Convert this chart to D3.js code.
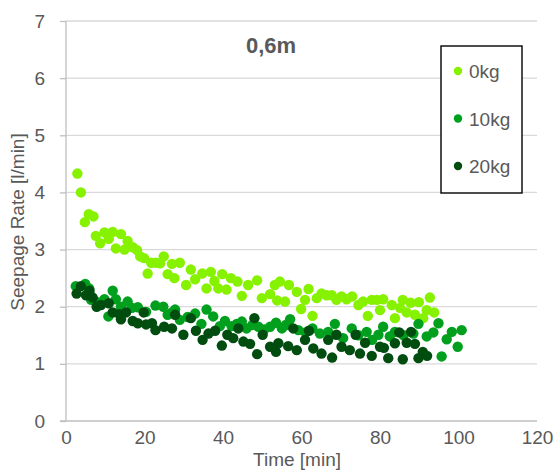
<!DOCTYPE html>
<html lang="en">
<head>
<meta charset="UTF-8">
<title>Seepage Rate 0,6m</title>
<script src="https://cdn.jsdelivr.net/npm/d3@7"></script>
<style>
    body { margin: 0; background: #fff; }
    svg text { font-family: "Liberation Sans", "DejaVu Sans", sans-serif; fill: #595959; }
    .grid line { stroke: #d9d9d9; stroke-width: 1.3; }
    .axis path, .axis line { stroke: #bfbfbf; stroke-width: 1.3; }
</style>
</head>
<body>
<svg id="chart" width="554" height="473"></svg>
<script>
// series data (time in min, rate in l/min)
var time0 = [2.9,3.8,4.8,5.8,7.0,7.6,8.7,9.8,10.9,11.9,12.7,14.0,14.9,15.7,17.0,18.1,18.9,19.9,20.8,21.7,22.9,24.0,24.9,25.9,27.0,27.6,
    29.0,30.6,31.8,32.9,34.7,35.8,36.9,37.8,38.8,39.8,40.9,42.0,43.7,44.8,46.4,48.7,49.9,52.0,53.2,53.8,
    54.5,55.8,56.8,58.8,59.9,60.9,61.8,62.8,63.9,65.1,66.4,67.7,68.9,70.2,71.5,72.9,74.5,75.7,76.9,77.9,79.2,80.0,
    80.8,83.0,83.8,85.1,85.8,86.8,87.8,88.9,89.9,91.0,91.9,92.7,93.8];
var rate0 = [4.33,4.00,3.48,3.62,3.58,3.24,3.11,3.30,3.19,3.31,3.02,3.27,3.00,3.15,3.04,2.99,2.88,2.85,2.58,2.77,2.77,2.76,2.88,2.57,2.75,2.50,
    2.77,2.38,2.65,2.48,2.58,2.32,2.61,2.45,2.32,2.57,2.30,2.50,2.44,2.19,2.38,2.46,2.15,2.22,2.38,2.11,
    2.44,2.09,2.38,2.26,1.96,2.12,2.31,1.84,2.15,2.23,2.20,2.20,2.12,2.18,2.13,2.18,2.03,2.09,1.84,2.12,2.12,1.94,
    2.13,2.03,1.80,1.98,2.12,1.90,2.07,1.86,2.08,1.80,1.94,2.16,1.90];

var time10 = [2.5,4.9,5.9,6.4,8.0,9.8,10.8,11.9,12.7,14.0,15.7,16.8,18.3,20.4,22.8,24.8,25.9,27.0,
    27.8,29.0,31.0,32.9,34.5,35.8,37.5,39.2,40.5,42.2,43.5,44.8,46.0,47.5,49.0,50.5,52.0,53.5,
    55.0,56.0,57.1,59.2,61.0,62.8,64.7,66.8,68.5,70.6,72.8,74.5,76.6,78.0,79.6,
    80.8,82.5,83.8,86.0,88.5,89.8,91.9,93.6,94.9,95.7,97.0,98.3,99.8,100.8];
var rate10 = [2.36,2.40,2.32,2.12,2.08,2.13,1.83,2.28,2.13,2.00,2.09,1.98,1.99,1.91,2.02,2.00,1.86,1.90,
    1.95,1.77,1.82,1.88,1.70,1.95,1.83,1.66,1.75,1.66,1.70,1.74,1.62,1.68,1.65,1.60,1.65,1.72,
    1.62,1.68,1.78,1.59,1.55,1.62,1.53,1.56,1.70,1.45,1.62,1.50,1.56,1.42,1.51,
    1.65,1.48,1.56,1.50,1.53,1.70,1.48,1.55,1.71,1.13,1.43,1.56,1.30,1.59];

var time20 = [2.7,3.8,5.1,6.0,6.8,7.8,8.9,10.9,11.9,13.6,14.0,15.3,17.0,18.3,19.8,20.4,21.9,22.8,25.0,27.0,
    27.8,29.9,31.8,33.1,34.8,36.3,38.0,39.7,41.1,42.6,43.9,45.2,46.9,48.0,48.7,50.1,52.0,53.5,
    54.1,56.6,57.9,58.8,60.9,61.9,63.0,65.1,66.8,67.8,68.9,70.2,72.3,73.8,74.9,76.2,77.9,80.0,
    81.0,82.1,83.8,84.9,85.8,86.8,87.9,88.9,89.8,90.9,92.0];
var rate20 = [2.23,2.36,2.20,2.28,2.16,2.00,2.03,2.06,1.90,1.87,1.78,1.90,1.75,1.71,1.90,1.69,1.71,1.59,1.65,1.62,
    1.86,1.51,1.80,1.58,1.42,1.53,1.58,1.32,1.51,1.45,1.62,1.39,1.35,1.80,1.17,1.51,1.30,1.21,
    1.36,1.31,1.62,1.24,1.42,1.58,1.27,1.18,1.42,1.11,1.51,1.30,1.24,1.51,1.18,1.37,1.14,1.30,
    1.28,1.10,1.36,1.55,1.08,1.37,1.56,1.35,1.10,1.21,1.14];

var seriesNames = ["0kg", "10kg", "20kg"];
var seriesColors = ["#86f200", "#00a01e", "#004d0f"];
var xTicks = [0, 20, 40, 60, 80, 100, 120];
var yTicks = [0, 1, 2, 3, 4, 5, 6, 7];

var svg = d3.select("#chart");
var plotLeft = 66, plotRight = 537, plotTop = 21, plotBottom = 421;

var getX = d3.scaleLinear().domain([0, 120]).range([plotLeft, plotRight]);
var getY = d3.scaleLinear().domain([0, 7]).range([plotBottom, plotTop]);

// horizontal gridlines
svg.append("g").attr("class", "grid")
    .selectAll("line").data(yTicks.slice(1)).enter().append("line")
    .attr("x1", plotLeft).attr("x2", plotRight)
    .attr("y1", function (d) { return getY(d); })
    .attr("y2", function (d) { return getY(d); });

// axes
var axisX = d3.axisBottom(getX).tickValues(xTicks).tickFormat(d3.format("d")).tickSize(0).tickPadding(10);
var axisY = d3.axisLeft(getY).tickValues(yTicks).tickFormat(d3.format("d")).tickSize(6).tickPadding(15);
var gx = svg.append("g").attr("class", "axis").attr("transform", "translate(0," + plotBottom + ")").call(axisX);
var gy = svg.append("g").attr("class", "axis").attr("transform", "translate(" + plotLeft + ",0)").call(axisY);
gy.select(".domain").attr("d", "M0," + plotTop + "V" + plotBottom);
gx.select(".domain").attr("d", "M" + (plotLeft - 6) + ",0H" + plotRight);
svg.selectAll(".axis text").style("font-size", "19px").style("fill", "#595959")
    .style("font-family", "'Liberation Sans', sans-serif");

// points
var sets = [[time0, rate0], [time10, rate10], [time20, rate20]];
sets.forEach(function (s, k) {
    svg.append("g").selectAll("circle")
        .data(s[0].map(function (t, i) { return {t: t, v: s[1][i]}; }))
        .enter().append("circle")
        .attr("cx", function (d) { return getX(d.t); })
        .attr("cy", function (d) { return getY(d.v); })
        .attr("r", 5.2)
        .attr("fill", seriesColors[k]);
});

// title
svg.append("text").text("0,6m")
    .attr("x", 271).attr("y", 53)
    .attr("text-anchor", "middle")
    .style("font-size", "22px").style("font-weight", "bold");

// axis labels
svg.append("text").text("Seepage Rate [l/min]")
    .attr("transform", "translate(24,222) rotate(-90)")
    .attr("text-anchor", "middle")
    .style("font-size", "19px");
svg.append("text").text("Time [min]")
    .attr("x", 297).attr("y", 466)
    .attr("text-anchor", "middle")
    .style("font-size", "19px");

// legend
var legend = svg.append("g");
legend.append("rect")
    .attr("x", 441).attr("y", 46).attr("width", 81).attr("height", 147)
    .attr("fill", "#fff").attr("stroke", "#000").attr("stroke-width", 1.4);
var legY = d3.scalePoint().domain(seriesNames).range([71, 166]);
seriesNames.forEach(function (n, k) {
    legend.append("circle")
        .attr("cx", 458).attr("cy", legY(n)).attr("r", 4.2)
        .attr("fill", seriesColors[k]);
    legend.append("text").text(n)
        .attr("x", 469).attr("y", legY(n) + 7)
        .style("font-size", "19px");
});
</script>
</body>
</html>
